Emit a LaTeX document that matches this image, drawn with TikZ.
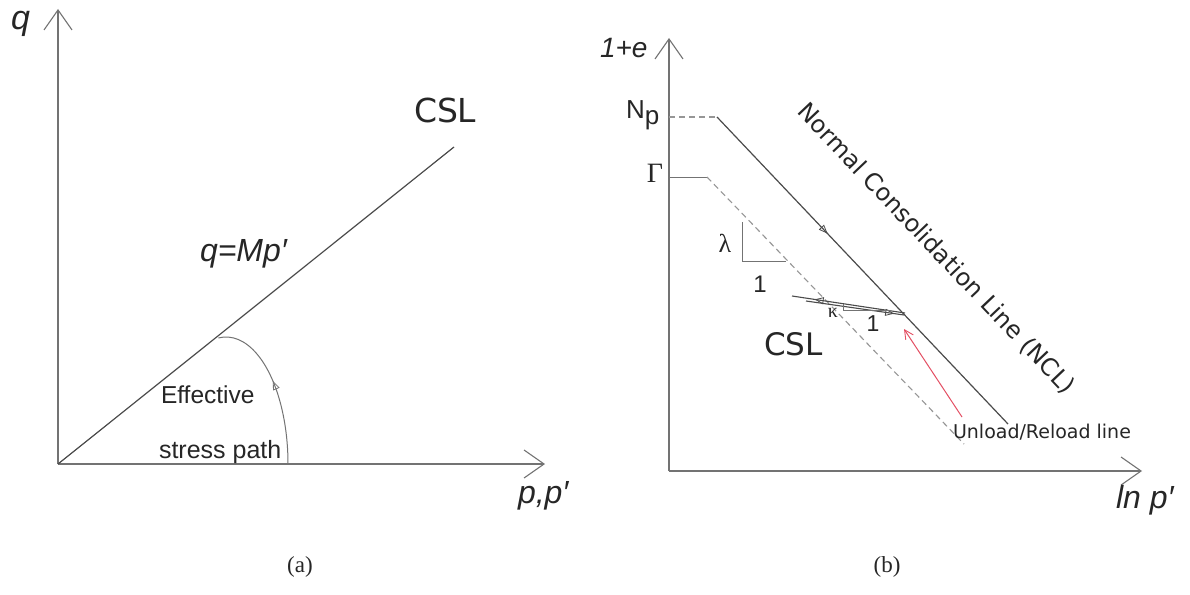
\documentclass[tikz,border=0pt]{standalone}
\usepackage{fontspec}
\setmainfont{Liberation Serif}
\newfontfamily\arialf{Liberation Sans}
\newfontfamily\dejavuf{DejaVu Sans}
\usetikzlibrary{arrows.meta,decorations.markings}
\definecolor{axisgray}{RGB}{115,115,115}
\definecolor{linegray}{RGB}{75,75,75}
\definecolor{dashgray}{RGB}{150,150,150}
\definecolor{pinkred}{RGB}{228,80,100}
\tikzset{
  axisline/.style={draw=axisgray, line width=1.4pt, -{Straight Barb[length=20pt,width=28pt,line width=1.1pt]}},
  mainline/.style={draw=linegray, line width=1.2pt},
  thinline/.style={draw=axisgray, line width=1pt},
  dashline/.style={draw=dashgray, line width=1.1pt, dash pattern=on 6pt off 4pt},
  midarrow/.style={postaction={decorate}, decoration={markings, mark=at position #1 with {\arrow{Triangle[open,length=9pt,width=7pt,line width=0.8pt]}}}},
  lbl/.style={inner sep=0pt, outer sep=0pt, text=black!85},
  itlbl/.style={lbl, font=\arialf\itshape\fontsize{32}{38}\selectfont},
}
\begin{document}
\begin{tikzpicture}[x=1pt, y=-1pt]
\useasboundingbox[fill=white] (0,0) rectangle (1190,594);
% ---------------- panel (a) ----------------
\coordinate (O1) at (58,464);
\coordinate (Qtop) at (58,9);
\coordinate (Pend) at (545,464);
\coordinate (CSLend) at (454,147);
\coordinate (arcB) at (288,464);
\draw[axisline] (O1) -- (Qtop);
\draw[axisline] (O1) -- (Pend);
\draw[mainline] (O1) -- (CSLend);
\draw[thinline, midarrow=0.53] (arcB) arc[start angle=0, end angle=97, x radius=62pt, y radius=127pt];
\node[itlbl, anchor=base west, font=\arialf\itshape\fontsize{34}{38}\selectfont] (qlab) at (11,30) {q};
\node[itlbl, anchor=base west] (plab) at (518,503) {p,p′};
\node[itlbl, anchor=base west] (qmp) at (200,261) {q=Mp′};
\node[lbl, anchor=base west, font=\dejavuf\fontsize{33}{38}\selectfont] (csla) at (414,122) {CSL};
\node[lbl, anchor=base west, font=\arialf\fontsize{24.5}{28}\selectfont] (eff) at (161,403) {Effective};
\node[lbl, anchor=base west, font=\arialf\fontsize{25}{28}\selectfont] (spath) at (159,458) {stress path};
\node[lbl, font=\fontsize{23}{27}\selectfont] (capa) at (300,567) {(a)};
% ---------------- panel (b) ----------------
\coordinate (O2) at (669,471);
\coordinate (Etop) at (669,38);
\coordinate (Lend) at (1142,471);
\coordinate (NpA) at (669,117);
\coordinate (NpB) at (717,117);
\coordinate (NclEnd) at (1008,424);
\coordinate (GA) at (669,177);
\coordinate (GB) at (707,177);
\coordinate (CslEnd) at (964,444);
\coordinate (LamT) at (742,222);
\coordinate (LamC) at (742,261);
\coordinate (LamR) at (786,261);
\coordinate (UrA) at (905,313);
\coordinate (UrB) at (792,296);
\coordinate (UrC) at (806,301);
\coordinate (UrD) at (904,315);
\coordinate (KT) at (843,304);
\coordinate (KC) at (843,310);
\coordinate (KR) at (891,310);
\coordinate (RedS) at (962,417);
\coordinate (RedE) at (904,329);
\draw[axisline] (O2) -- (Etop);
\draw[axisline] (O2) -- (Lend);
\draw[dashline] (NpA) -- (NpB);
\draw[mainline, midarrow=0.38] (NpB) -- (NclEnd);
\draw[thinline] (GA) -- (GB);
\draw[dashline] (GB) -- (CslEnd);
\draw[thinline] (LamT) -- (LamC) -- (LamR);
\draw[mainline, line width=1.1pt, midarrow=0.8] (UrA) -- (UrB);
\draw[mainline, line width=1.1pt, midarrow=0.9] (UrC) -- (UrD);
\draw[thinline, line width=0.9pt] (KT) -- (KC) -- (KR);
\draw[draw=pinkred, line width=1pt, -{Straight Barb[length=9pt,width=9pt,line width=0.9pt]}] (RedS) -- (RedE);
\node[itlbl, anchor=base west, font=\arialf\itshape\fontsize{28}{32}\selectfont] (elab) at (600,58) {1+e};
\node[itlbl, anchor=base west] (lnlab) at (1116,508) {ln p′};
\node[lbl, anchor=base west, font=\arialf\fontsize{26}{30}\selectfont] (nplab) at (626,118) {N\raisebox{-6pt}{p}};
\node[lbl, font=\fontsize{28}{32}\selectfont] (glab) at (655,173) {Γ};
\node[lbl, font=\fontsize{26}{30}\selectfont] (lamlab) at (725,243) {λ};
\node[lbl, font=\arialf\fontsize{24}{28}\selectfont] (one1) at (760,284) {1};
\node[lbl, font=\fontsize{20}{24}\selectfont] (kaplab) at (833,313) {κ};
\node[lbl, font=\arialf\fontsize{23}{26}\selectfont] (one2) at (873,324) {1};
\node[lbl, anchor=base west, font=\dejavuf\fontsize{31}{36}\selectfont] (cslb) at (764,355) {CSL};
\node[lbl, rotate=-46.5, font=\dejavuf\fontsize{24}{28}\selectfont] (ncl) at (936,249) {Normal Consolidation Line (NCL)};
\node[lbl, anchor=base west, font=\dejavuf\fontsize{19}{22}\selectfont] (url) at (953,438) {Unload/Reload line};
\node[lbl, font=\fontsize{23}{27}\selectfont] (capb) at (887,567) {(b)};
\end{tikzpicture}
\end{document}
